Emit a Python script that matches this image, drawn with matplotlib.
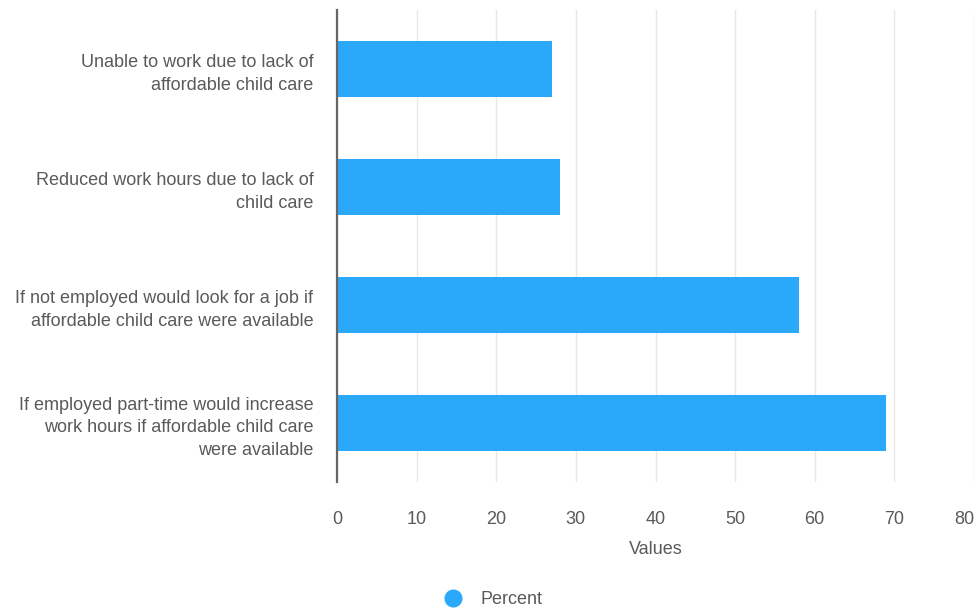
import matplotlib.pyplot as plt

plt.rcParams['font.family'] = ['Liberation Sans', 'DejaVu Sans']

# Datos
categories = [
    "Unable to work due to lack of\naffordable child care",
    "Reduced work hours due to lack of\nchild care",
    "If not employed would look for a job if\naffordable child care were available",
    "If employed part-time would increase\nwork hours if affordable child care\nwere available",
]
percent = [27, 28, 58, 69]
xticks = [0, 10, 20, 30, 40, 50, 60, 70, 80]

bar_color = '#2aa9fb'
text_color = '#5a5a5a'

fig = plt.figure(figsize=(9.78, 6.09), dpi=100)
ax = fig.add_axes([0.3446, 0.2085, 0.6513, 0.775])

ypos = list(range(len(categories)))
ax.barh(ypos, percent, height=0.47, color=bar_color, label="Percent", zorder=3)

ax.set_ylim(len(categories) - 0.5, -0.5)
ax.set_xlim(0, 80)
ax.set_yticks(ypos)
ax.set_yticklabels(categories, fontsize=13, color=text_color, linespacing=1.45)
ax.set_xticks(xticks)
ax.set_xticklabels([str(t) for t in xticks], fontsize=13, color=text_color)
ax.tick_params(axis='y', length=0, pad=17)
ax.tick_params(axis='x', length=0, pad=21)
# la última etiqueta se corre a la izquierda para que no se corte
ax.get_xticklabels()[-1].set_horizontalalignment('right')

# Rejilla y ejes
ax.grid(axis='x', color='#e8e8e8', linewidth=1, zorder=0)
for s in ['top', 'right', 'bottom']:
    ax.spines[s].set_visible(False)
ax.spines['left'].set_color('#666666')
ax.spines['left'].set_linewidth(1.6)
ax.spines['left'].set_zorder(4)

ax.set_xlabel("Values", fontsize=13, color=text_color, labelpad=9)

# Leyenda
handle = plt.Line2D([], [], marker='o', linestyle='', markersize=12,
                    markerfacecolor=bar_color, markeredgecolor=bar_color)
fig.legend([handle], ["Percent"], loc='center', bbox_to_anchor=(0.5, 0.015),
           frameon=False, fontsize=13, labelcolor=text_color,
           handletextpad=0.5)

fig.savefig("out.png", dpi=100)
